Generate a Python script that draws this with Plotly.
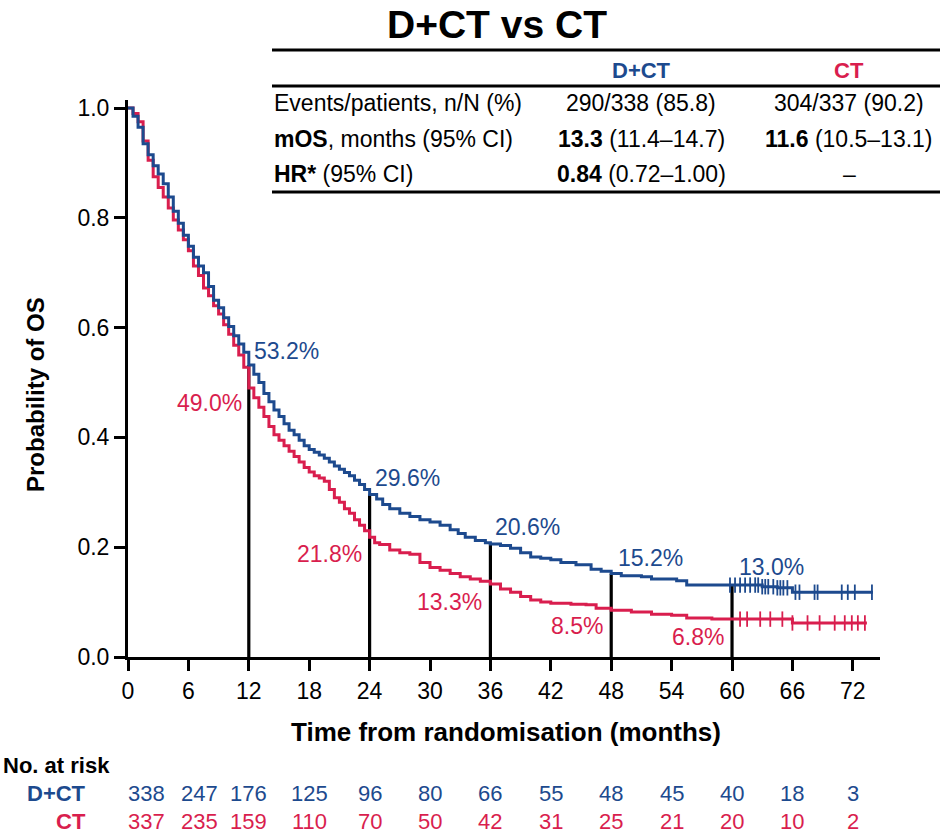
import numpy as np
import plotly.graph_objects as go

# ---------------- data ----------------
month_ticks = [0, 6, 12, 18, 24, 30, 36, 42, 48, 54, 60, 66, 72]
prob_ticks = [0.0, 0.2, 0.4, 0.6, 0.8, 1.0]
prob_tick_text = ["0.0", "0.2", "0.4", "0.6", "0.8", "1.0"]

dct_time = [0, 0.5, 1.0, 1.5, 2.0, 2.5, 3.0, 3.5, 4.0, 4.5, 5.0, 5.5, 6.0, 6.5, 7.0, 7.5,
            8.0, 8.5, 9.0, 9.5, 10.0, 10.5, 11.0, 11.5, 12.0, 12.5, 13.0, 13.5, 14.0, 14.5,
            15.0, 15.5, 16.0, 16.5, 17.0, 17.5, 18.0, 18.5, 19.0, 19.5, 20.0, 20.5, 21.0,
            21.5, 22.0, 22.5, 23.0, 23.5, 24.0, 24.7, 25.3, 26.0, 27.0, 28.0, 29.0, 30.0,
            31.0, 32.0, 32.8, 33.5, 34.5, 35.5, 36.0, 37.0, 38.0, 39.0, 40.0, 41.0, 42.0,
            43.0, 44.5, 46.0, 47.0, 48.0, 49.0, 51.0, 52.0, 54.5, 55.5, 63.0, 64.5, 66.0, 74.0]
dct_surv = [1.000, 0.985, 0.965, 0.935, 0.915, 0.895, 0.880, 0.862, 0.838, 0.812, 0.790,
            0.768, 0.748, 0.728, 0.712, 0.700, 0.675, 0.650, 0.636, 0.618, 0.602, 0.585,
            0.570, 0.555, 0.532, 0.515, 0.500, 0.480, 0.465, 0.450, 0.438, 0.425, 0.413,
            0.405, 0.395, 0.385, 0.378, 0.373, 0.368, 0.362, 0.355, 0.348, 0.342, 0.336,
            0.330, 0.322, 0.314, 0.305, 0.296, 0.288, 0.278, 0.270, 0.262, 0.256, 0.250,
            0.246, 0.240, 0.232, 0.225, 0.218, 0.212, 0.208, 0.206, 0.203, 0.198, 0.190,
            0.182, 0.180, 0.177, 0.172, 0.168, 0.160, 0.156, 0.152, 0.148, 0.146, 0.142,
            0.139, 0.131, 0.128, 0.126, 0.118, 0.118]

ct_time = [0, 0.5, 1.0, 1.5, 2.0, 2.5, 3.0, 3.5, 4.0, 4.5, 5.0, 5.5, 6.0, 6.5, 7.0, 7.5,
           8.0, 8.5, 9.0, 9.5, 10.0, 10.5, 11.0, 11.5, 12.0, 12.5, 13.0, 13.5, 14.0, 14.5,
           15.0, 15.5, 16.0, 16.5, 17.0, 17.5, 18.0, 18.5, 19.0, 19.5, 20.0, 20.5, 21.0,
           21.5, 22.0, 22.5, 23.0, 23.5, 24.0, 24.5, 25.0, 26.0, 27.0, 28.0, 29.0, 30.0,
           31.0, 32.0, 33.0, 34.0, 35.0, 36.0, 37.0, 38.0, 39.0, 40.0, 41.0, 42.0, 44.0,
           45.5, 46.5, 48.0, 50.0, 52.0, 54.0, 55.5, 58.0, 66.0, 73.4]
ct_surv = [1.000, 0.990, 0.975, 0.940, 0.905, 0.875, 0.855, 0.838, 0.818, 0.796, 0.778,
           0.760, 0.740, 0.712, 0.695, 0.672, 0.658, 0.640, 0.625, 0.605, 0.588, 0.568,
           0.550, 0.528, 0.490, 0.472, 0.455, 0.438, 0.420, 0.405, 0.395, 0.385, 0.375,
           0.365, 0.355, 0.345, 0.337, 0.330, 0.326, 0.320, 0.305, 0.290, 0.282, 0.270,
           0.262, 0.250, 0.240, 0.230, 0.218, 0.208, 0.205, 0.195, 0.190, 0.187, 0.172,
           0.163, 0.158, 0.152, 0.146, 0.142, 0.138, 0.133, 0.124, 0.118, 0.110, 0.104,
           0.100, 0.098, 0.096, 0.095, 0.089, 0.085, 0.082, 0.078, 0.076, 0.071, 0.069,
           0.062, 0.062]

dct_censor = [59.8, 60.3, 60.8, 61.3, 61.8, 62.3, 62.6, 63.0, 63.3, 63.6, 64.1, 64.5,
              64.8, 65.1, 65.5, 66.3, 66.7, 68.2, 68.5, 70.9, 71.5, 72.2, 73.9]
ct_censor = [60.8, 61.5, 62.8, 63.8, 65.0, 66.0, 67.5, 68.7, 70.2, 71.2, 71.9, 72.5, 73.2]

landmark_months = [12, 24, 36, 48, 60]
dct_landmark_pct = [53.2, 29.6, 20.6, 15.2, 13.0]
ct_landmark_pct = [49.0, 21.8, 13.3, 8.5, 6.8]

dct_at_risk = [338, 247, 176, 125, 96, 80, 66, 55, 48, 45, 40, 18, 3]
ct_at_risk = [337, 235, 159, 110, 70, 50, 42, 31, 25, 21, 20, 10, 2]

table_header = ["D+CT", "CT"]
table_row_labels = ["Events/patients, n/N (%)", "<b>mOS</b>, months (95% CI)", "<b>HR*</b> (95% CI)"]
table_dct = ["290/338 (85.8)", "<b>13.3</b> (11.4–14.7)", "<b>0.84</b> (0.72–1.00)"]
table_ct = ["304/337 (90.2)", "<b>11.6</b> (10.5–13.1)", "–"]

# ---------------- style ----------------
BLUE = "#1D4A8E"
RED = "#D91E4E"
FONT = "Liberation Sans, Arial, sans-serif"

W, H = 940, 834
L, T, R, B = 128, 100, 60, 177
PW, PH = W - L - R, H - T - B
XMAX = 74.7
YMAX = PH / 549.0


def px(x):
    return (x - L) / PW


def py(y):
    return (T + PH - y) / PH


def step_value(times, surv, t):
    i = np.searchsorted(np.array(times), t, side="right") - 1
    return np.array(surv)[i]


fig = go.Figure()

# landmark vertical lines
vx, vy = [], []
for m, p in zip(landmark_months, dct_landmark_pct):
    vx += [m, m, None]
    vy += [0, p / 100, None]
fig.add_trace(go.Scatter(x=vx, y=vy, mode="lines", line=dict(color="black", width=3.2),
                         hoverinfo="skip", showlegend=False))

# KM curves
fig.add_trace(go.Scatter(x=ct_time, y=ct_surv, mode="lines", line_shape="hv",
                         line=dict(color=RED, width=3), showlegend=False))
fig.add_trace(go.Scatter(x=dct_time, y=dct_surv, mode="lines", line_shape="hv",
                         line=dict(color=BLUE, width=3), showlegend=False))

# censor marks
fig.add_trace(go.Scatter(x=ct_censor, y=[step_value(ct_time, ct_surv, t) for t in ct_censor],
                         mode="markers", marker=dict(symbol="line-ns", size=11, color=RED,
                                                     line=dict(color=RED, width=1.8)),
                         showlegend=False))
fig.add_trace(go.Scatter(x=dct_censor, y=[step_value(dct_time, dct_surv, t) for t in dct_censor],
                         mode="markers", marker=dict(symbol="line-ns", size=11, color=BLUE,
                                                     line=dict(color=BLUE, width=1.8)),
                         showlegend=False))

ann = []
# landmark labels
blue_shift = [(3, 14), (3, 17), (3, 17), (5, 16), (5, 19)]
red_shift = [(-5, -15), (-6, -17), (-6, -18), (-6, -16), (-6, -17)]
for m, p, (dx, dy) in zip(landmark_months, dct_landmark_pct, blue_shift):
    ann.append(dict(x=m, y=p / 100, xref="x", yref="y", text=f"{p:.1f}%", showarrow=False,
                    xanchor="left", yanchor="middle", xshift=dx, yshift=dy,
                    font=dict(size=23, color=BLUE, family=FONT)))
for m, p, (dx, dy) in zip(landmark_months, ct_landmark_pct, red_shift):
    ann.append(dict(x=m, y=p / 100, xref="x", yref="y", text=f"{p:.1f}%", showarrow=False,
                    xanchor="right", yanchor="middle", xshift=dx, yshift=dy,
                    font=dict(size=23, color=RED, family=FONT)))

# axis titles
ann.append(dict(x=px(506), y=py(732), xref="paper", yref="paper",
                text="<b>Time from randomisation (months)</b>", showarrow=False,
                xanchor="center", yanchor="middle", font=dict(size=26, color="black", family=FONT)))
ann.append(dict(x=px(35), y=py(395), xref="paper", yref="paper",
                text="<b>Probability of OS</b>", showarrow=False, textangle=-90,
                xanchor="center", yanchor="middle", font=dict(size=24, color="black", family=FONT)))

# title
ann.append(dict(x=px(497), y=py(24), xref="paper", yref="paper", text="<b>D+CT vs CT</b>",
                showarrow=False, xanchor="center", yanchor="middle",
                font=dict(size=39, color="black", family=FONT)))

# table
col_dct_x, col_ct_x = 641, 849
ann.append(dict(x=px(col_dct_x), y=py(70), xref="paper", yref="paper", text=f"<b>{table_header[0]}</b>",
                showarrow=False, xanchor="center", yanchor="middle",
                font=dict(size=22, color=BLUE, family=FONT)))
ann.append(dict(x=px(col_ct_x), y=py(70), xref="paper", yref="paper", text=f"<b>{table_header[1]}</b>",
                showarrow=False, xanchor="center", yanchor="middle",
                font=dict(size=22, color=RED, family=FONT)))
row_y = [103, 139, 174]
for yy, lab, a, b in zip(row_y, table_row_labels, table_dct, table_ct):
    ann.append(dict(x=px(272), y=py(yy), xref="paper", yref="paper", text=lab, showarrow=False,
                    xanchor="left", yanchor="middle", font=dict(size=23, color="black", family=FONT)))
    ann.append(dict(x=px(col_dct_x), y=py(yy), xref="paper", yref="paper", text=a, showarrow=False,
                    xanchor="center", yanchor="middle", font=dict(size=23, color="black", family=FONT)))
    ann.append(dict(x=px(col_ct_x), y=py(yy), xref="paper", yref="paper", text=b, showarrow=False,
                    xanchor="center", yanchor="middle", font=dict(size=23, color="black", family=FONT)))

shapes = []
for yy, w in [(50, 3), (86, 3), (192, 3)]:
    shapes.append(dict(type="line", xref="paper", yref="paper", x0=px(272), x1=px(945),
                       y0=py(yy), y1=py(yy), line=dict(color="black", width=w)))

# at-risk table
ann.append(dict(x=px(1), y=py(765), xref="paper", yref="paper", text="<b>No. at risk</b>",
                showarrow=False, xanchor="left", yanchor="middle",
                font=dict(size=22, color="black", family=FONT)))
ann.append(dict(x=px(88), y=py(793), xref="paper", yref="paper", text="<b>D+CT</b>",
                showarrow=False, xanchor="right", yanchor="middle",
                font=dict(size=22, color=BLUE, family=FONT)))
ann.append(dict(x=px(88), y=py(822), xref="paper", yref="paper", text="<b>CT</b>",
                showarrow=False, xanchor="right", yanchor="middle",
                font=dict(size=22, color=RED, family=FONT)))
first_shift = {0: 18, 6: 11}
for m, a, b in zip(month_ticks, dct_at_risk, ct_at_risk):
    s = first_shift.get(m, 0)
    ann.append(dict(x=m, y=py(793), xref="x", yref="paper", text=str(a), showarrow=False,
                    xanchor="center", yanchor="middle", xshift=s,
                    font=dict(size=22, color=BLUE, family=FONT)))
    ann.append(dict(x=m, y=py(822), xref="x", yref="paper", text=str(b), showarrow=False,
                    xanchor="center", yanchor="middle", xshift=s,
                    font=dict(size=22, color=RED, family=FONT)))

fig.update_layout(
    width=W, height=H,
    margin=dict(l=L, r=R, t=T, b=B, pad=0),
    paper_bgcolor="white", plot_bgcolor="white",
    font=dict(family=FONT, color="black"),
    annotations=ann, shapes=shapes,
    showlegend=False,
)
fig.update_xaxes(range=[0, XMAX], tickvals=month_ticks, ticks="outside", ticklen=11, tickwidth=3,
                 tickcolor="black", showline=True, linewidth=3, linecolor="black",
                 showgrid=False, zeroline=False, tickfont=dict(size=23, family=FONT))
fig.update_yaxes(range=[0, YMAX], tickvals=prob_ticks, ticktext=prob_tick_text, ticks="outside",
                 ticklen=11, tickwidth=3, tickcolor="black", showline=True, linewidth=3,
                 linecolor="black", showgrid=False, zeroline=False,
                 tickfont=dict(size=23, family=FONT))

fig.write_html("out.html")
